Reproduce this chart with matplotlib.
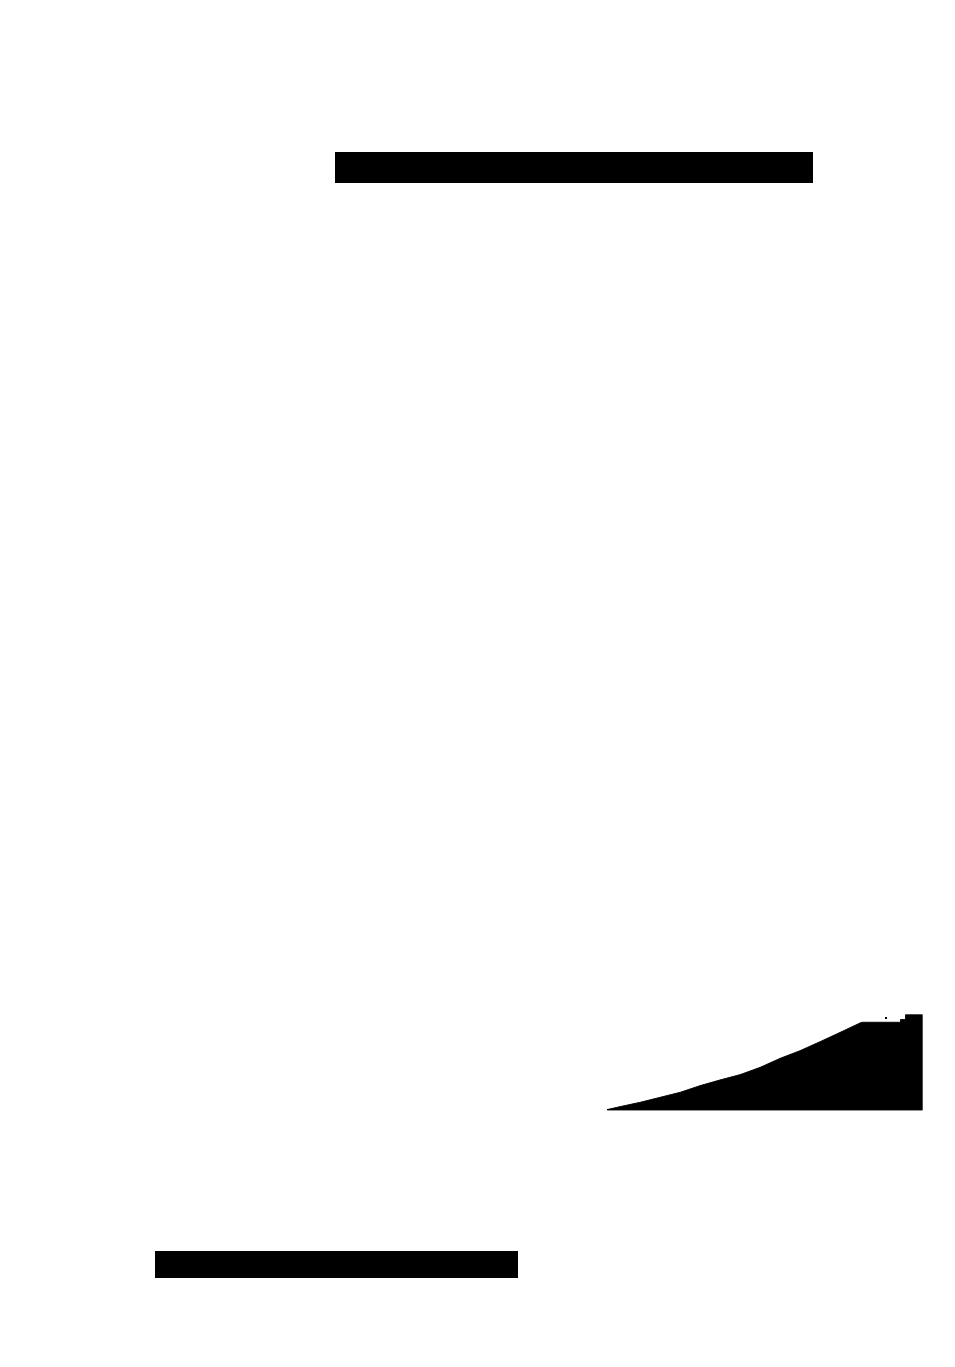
import matplotlib
matplotlib.use("Agg")
import matplotlib.pyplot as plt
import numpy as np

# Canvas size (pixels)
W, H = 955, 1367

# Solid horizontal bars (pixel units of the canvas)
bar_names = ["top", "bottom"]
bar_left = [335, 155]
bar_right = [812.7, 517.7]
bar_top = [152, 1251]
bar_bottom = [182.7, 1277.7]

# Filled area (upper edge)
area_x = [607, 620, 640, 660, 680, 700, 720, 740, 760, 780, 800, 820, 840,
          860, 862, 900, 900, 905, 905, 921.7]
area_y = [1109, 1106, 1101.7, 1096.7, 1091.7, 1085, 1079.3, 1074, 1066.7,
          1057.7, 1050, 1041, 1031.7, 1022.3, 1021.7, 1021.7, 1019, 1019,
          1014.3, 1014.3]
area_base = 1109.5

# Small isolated point
dot_x = [886]
dot_y = [1017.6]

fig = plt.figure(figsize=(W / 100, H / 100), dpi=100)
ax = fig.add_axes([0, 0, 1, 1])
ax.set_xlim(0, W)
ax.set_ylim(H, 0)
ax.axis("off")

for l, r, t, b in zip(bar_left, bar_right, bar_top, bar_bottom):
    ax.fill_between([l, r], [t, t], [b, b], color="black", linewidth=0)

ax.fill_between(area_x, area_y, area_base, color="black", linewidth=0.6,
                edgecolor="black")

ax.scatter(dot_x, dot_y, s=3, marker="s", color="black", linewidths=0)

fig.savefig("out.png", dpi=100, facecolor="white")
